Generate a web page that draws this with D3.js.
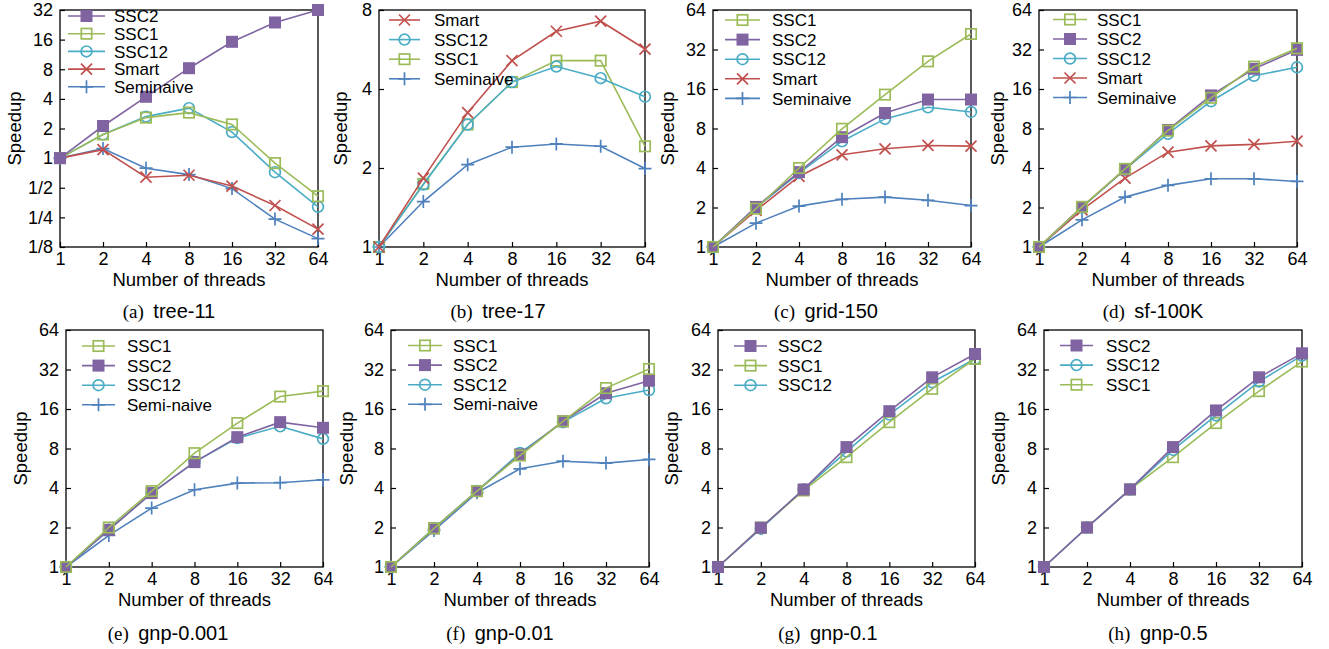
<!DOCTYPE html>
<html><head><meta charset="utf-8">
<script src="https://cdn.jsdelivr.net/npm/d3@7"></script>
<style>body{margin:0;background:#fff}svg{display:block}</style>
</head><body>
<svg id="c" width="1329" height="649"></svg>
<script>
const threads = [1, 2, 4, 8, 16, 32, 64];
const xTickLabels = ["1", "2", "4", "8", "16", "32", "64"];
const yTicksA = [0.125, 0.25, 0.5, 1, 2, 4, 8, 16, 32];
const yTickLabelsA = ["1/8", "1/4", "1/2", "1", "2", "4", "8", "16", "32"];
const yTicksB = [1, 2, 4, 8];
const yTicks64 = [1, 2, 4, 8, 16, 32, 64];

// (a) tree-11
const tree11_SSC2 = [1, 2.12, 4.2, 8.2, 15.2, 23.9, 32];
const tree11_SSC1 = [1, 1.74, 2.58, 2.9, 2.2, 0.89, 0.41];
const tree11_SSC12 = [1, 1.74, 2.64, 3.22, 1.84, 0.72, 0.32];
const tree11_Smart = [1, 1.22, 0.64, 0.67, 0.52, 0.33, 0.19];
const tree11_Seminaive = [1, 1.25, 0.79, 0.68, 0.49, 0.24, 0.152];
// (b) tree-17
const tree17_Smart = [1, 1.83, 3.25, 5.13, 6.64, 7.25, 5.68];
const tree17_SSC12 = [1, 1.73, 2.93, 4.25, 4.87, 4.40, 3.74];
const tree17_SSC1 = [1, 1.74, 2.93, 4.25, 5.13, 5.13, 2.42];
const tree17_Seminaive = [1, 1.49, 2.06, 2.40, 2.47, 2.42, 1.99];
// (c) grid-150
const grid150_SSC1 = [1, 1.96, 4.0, 7.96, 14.5, 26, 42];
const grid150_SSC2 = [1, 2.02, 3.72, 6.87, 10.5, 13.3, 13.3];
const grid150_SSC12 = [1, 1.99, 3.66, 6.4, 9.47, 11.6, 10.7];
const grid150_Smart = [1, 1.9, 3.45, 5.04, 5.6, 5.94, 5.87];
const grid150_Seminaive = [1, 1.52, 2.05, 2.31, 2.40, 2.27, 2.07];
// (d) sf-100K
const sf100k_SSC1 = [1, 2.02, 3.94, 7.7, 13.7, 23.7, 32.7];
const sf100k_SSC2 = [1, 2.02, 3.9, 7.8, 14.3, 22.8, 31.8];
const sf100k_SSC12 = [1, 2.0, 3.9, 7.3, 12.9, 20.2, 23.4];
const sf100k_Smart = [1, 1.92, 3.35, 5.28, 5.9, 6.05, 6.4];
const sf100k_Seminaive = [1, 1.61, 2.40, 2.95, 3.31, 3.31, 3.16];
// (e) gnp-0.001
const gnp0001_SSC1 = [1, 2.0, 3.79, 7.37, 12.5, 19.9, 21.9];
const gnp0001_SSC2 = [1, 1.92, 3.66, 6.3, 9.76, 12.7, 11.5];
const gnp0001_SSC12 = [1, 1.92, 3.66, 6.3, 9.6, 11.8, 9.47];
const gnp0001_Seminaive = [1, 1.74, 2.81, 3.88, 4.36, 4.39, 4.62];
// (f) gnp-0.01
const gnp001_SSC1 = [1, 1.97, 3.79, 7.07, 12.9, 23.1, 32.3];
const gnp001_SSC2 = [1, 1.97, 3.79, 7.2, 12.9, 21.1, 26.3];
const gnp001_SSC12 = [1, 1.97, 3.79, 7.4, 12.7, 19.3, 22.3];
const gnp001_Seminaive = [1, 1.9, 3.68, 5.6, 6.4, 6.19, 6.6];
// (g) gnp-0.1
const gnp01_SSC2 = [1, 1.99, 3.9, 8.2, 15.4, 27.9, 42];
const gnp01_SSC1 = [1, 2.0, 3.83, 6.87, 12.7, 22.8, 38.5];
const gnp01_SSC12 = [1, 1.96, 3.9, 7.58, 14.5, 25.6, 38.5];
// (h) gnp-0.5
const gnp05_SSC2 = [1, 2.0, 3.9, 8.2, 15.6, 27.9, 42.5];
const gnp05_SSC12 = [1, 2.0, 3.9, 7.8, 14.3, 25.9, 40.8];
const gnp05_SSC1 = [1, 2.0, 3.9, 6.87, 12.5, 21.9, 36.8];

const styles = {
  SSC2: {color: "#8064a2", marker: "fsquare"},
  SSC1: {color: "#9bbb59", marker: "osquare"},
  SSC12: {color: "#4bacc6", marker: "circle"},
  Smart: {color: "#c0504d", marker: "x"},
  Seminaive: {color: "#4f81bd", marker: "plus"}
};

const panels = [
  {cap: "(a)", name: "tree-11", box: [60, 318, 10, 247], yl: 15, yDom: [0.125, 32], yt: yTicksA, ytl: yTickLabelsA,
   leg: {x1: 68, x2: 105, tx: 114, y0: 16, dy: 17.7}, capX: 169, capY: 318,
   series: [["SSC2", "SSC2", tree11_SSC2], ["SSC1", "SSC1", tree11_SSC1], ["SSC12", "SSC12", tree11_SSC12], ["Smart", "Smart", tree11_Smart], ["Seminaive", "Seminaive", tree11_Seminaive]]},
  {cap: "(b)", name: "tree-17", box: [379, 645, 10, 247], yl: 341, yDom: [1, 8], yt: yTicksB, ytl: yTicksB.map(String),
   leg: {x1: 389, x2: 420, tx: 434, y0: 20, dy: 19.6}, capX: 498, capY: 318,
   series: [["Smart", "Smart", tree17_Smart], ["SSC12", "SSC12", tree17_SSC12], ["SSC1", "SSC1", tree17_SSC1], ["Seminaive", "Seminaive", tree17_Seminaive]]},
  {cap: "(c)", name: "grid-150", box: [713, 971, 10, 247], yl: 668, yDom: [1, 64], yt: yTicks64, ytl: yTicks64.map(String),
   leg: {x1: 725, x2: 760, tx: 772, y0: 20, dy: 19.6}, capX: 826, capY: 318,
   series: [["SSC1", "SSC1", grid150_SSC1], ["SSC2", "SSC2", grid150_SSC2], ["SSC12", "SSC12", grid150_SSC12], ["Smart", "Smart", grid150_Smart], ["Seminaive", "Seminaive", grid150_Seminaive]]},
  {cap: "(d)", name: "sf-100K", box: [1039, 1297, 10, 247], yl: 998, yDom: [1, 64], yt: yTicks64, ytl: yTicks64.map(String),
   leg: {x1: 1053, x2: 1087, tx: 1097, y0: 19.5, dy: 19.5}, capX: 1153, capY: 318,
   series: [["SSC1", "SSC1", sf100k_SSC1], ["SSC2", "SSC2", sf100k_SSC2], ["SSC12", "SSC12", sf100k_SSC12], ["Smart", "Smart", sf100k_Smart], ["Seminaive", "Seminaive", sf100k_Seminaive]]},
  {cap: "(e)", name: "gnp-0.001", box: [66, 323, 330, 567], yl: 21, yDom: [1, 64], yt: yTicks64, ytl: yTicks64.map(String),
   leg: {x1: 82, x2: 115, tx: 127, y0: 346, dy: 19.6}, capX: 168, capY: 640,
   series: [["SSC1", "SSC1", gnp0001_SSC1], ["SSC2", "SSC2", gnp0001_SSC2], ["SSC12", "SSC12", gnp0001_SSC12], ["Seminaive", "Semi-naive", gnp0001_Seminaive]]},
  {cap: "(f)", name: "gnp-0.01", box: [391, 649, 330, 567], yl: 347, yDom: [1, 64], yt: yTicks64, ytl: yTicks64.map(String),
   leg: {x1: 408, x2: 442, tx: 453, y0: 345.5, dy: 19.6}, capX: 500, capY: 640,
   series: [["SSC1", "SSC1", gnp001_SSC1], ["SSC2", "SSC2", gnp001_SSC2], ["SSC12", "SSC12", gnp001_SSC12], ["Seminaive", "Semi-naive", gnp001_Seminaive]]},
  {cap: "(g)", name: "gnp-0.1", box: [718, 975, 330, 567], yl: 672, yDom: [1, 64], yt: yTicks64, ytl: yTicks64.map(String),
   leg: {x1: 734, x2: 767, tx: 778, y0: 346, dy: 19.6}, capX: 828, capY: 640,
   series: [["SSC2", "SSC2", gnp01_SSC2], ["SSC1", "SSC1", gnp01_SSC1], ["SSC12", "SSC12", gnp01_SSC12]]},
  {cap: "(h)", name: "gnp-0.5", box: [1044, 1302, 330, 567], yl: 999, yDom: [1, 64], yt: yTicks64, ytl: yTicks64.map(String),
   leg: {x1: 1060, x2: 1093, tx: 1106, y0: 345.5, dy: 19.6}, capX: 1158, capY: 640,
   series: [["SSC2", "SSC2", gnp05_SSC2], ["SSC12", "SSC12", gnp05_SSC12], ["SSC1", "SSC1", gnp05_SSC1]]}
];

const svg = d3.select("#c");
const SANS = "'Liberation Sans', Arial, sans-serif";
const SERIF = "'Liberation Serif', 'Times New Roman', serif";

function drawMarker(g, type, color, x, y) {
  const s = 6;
  if (type === "fsquare") {
    g.append("rect").attr("x", x - s).attr("y", y - s).attr("width", 2 * s).attr("height", 2 * s).attr("fill", color);
  } else if (type === "osquare") {
    g.append("rect").attr("x", x - s + 0.8).attr("y", y - s + 0.8).attr("width", 2 * s - 1.6).attr("height", 2 * s - 1.6)
      .attr("fill", "none").attr("stroke", color).attr("stroke-width", 1.7);
  } else if (type === "circle") {
    g.append("circle").attr("cx", x).attr("cy", y).attr("r", s - 0.6).attr("fill", "none").attr("stroke", color).attr("stroke-width", 1.7);
  } else if (type === "x") {
    const q = 5.5;
    g.append("path").attr("d", `M${x - q},${y - q}L${x + q},${y + q}M${x - q},${y + q}L${x + q},${y - q}`)
      .attr("stroke", color).attr("stroke-width", 1.7).attr("fill", "none");
  } else if (type === "plus") {
    const p = 6.5;
    g.append("path").attr("d", `M${x - p},${y}L${x + p},${y}M${x},${y - p}L${x},${y + p}`)
      .attr("stroke", color).attr("stroke-width", 1.7).attr("fill", "none");
  }
}

panels.forEach(p => {
  const [L, R, T, B] = p.box;
  const x = d3.scaleLog().base(2).domain([1, 64]).range([L, R]);
  const y = d3.scaleLog().base(2).domain(p.yDom).range([B, T]);
  const g = svg.append("g");

  g.append("rect").attr("x", L).attr("y", T).attr("width", R - L).attr("height", B - T)
    .attr("fill", "none").attr("stroke", "#000").attr("stroke-width", 1.3);

  const xAxis = d3.axisBottom(x).tickValues(threads).tickFormat((d, i) => xTickLabels[i]).tickSizeInner(-5).tickSizeOuter(0).tickPadding(5);
  const xa = g.append("g").attr("transform", `translate(0,${B})`).call(xAxis);
  xa.select(".domain").remove();
  xa.selectAll("line").attr("stroke", "#000").attr("stroke-width", 1.2);
  xa.selectAll("text").attr("font-family", SANS).attr("font-size", 18).attr("fill", "#000");

  const yAxis = d3.axisLeft(y).tickValues(p.yt).tickFormat((d, i) => p.ytl[i]).tickSizeInner(-5).tickSizeOuter(0).tickPadding(7);
  const ya = g.append("g").attr("transform", `translate(${L},0)`).call(yAxis);
  ya.select(".domain").remove();
  ya.selectAll("line").attr("stroke", "#000").attr("stroke-width", 1.2);
  ya.selectAll("text").attr("font-family", SANS).attr("font-size", 18).attr("fill", "#000");

  g.append("text").attr("x", (L + R) / 2).attr("y", B + 39).attr("text-anchor", "middle")
    .attr("font-family", SANS).attr("font-size", 18.5).text("Number of threads");
  g.append("text").attr("transform", `translate(${p.yl + 6},${(T + B) / 2}) rotate(-90)`).attr("text-anchor", "middle")
    .attr("font-family", SANS).attr("font-size", 18.5).text("Speedup");

  const cap = g.append("text").attr("x", p.capX).attr("y", p.capY).attr("text-anchor", "middle");
  cap.append("tspan").attr("font-family", SERIF).attr("font-size", 19).text(p.cap + "\u00a0\u00a0");
  cap.append("tspan").attr("font-family", SANS).attr("font-size", 20).text(p.name);

  const line = d3.line().x((d, i) => x(threads[i])).y(d => y(d));
  p.series.slice().reverse().forEach(([key, label, vals]) => {
    const st = styles[key];
    g.append("path").attr("d", line(vals)).attr("fill", "none").attr("stroke", st.color).attr("stroke-width", 1.6);
    vals.forEach((v, i) => drawMarker(g, st.marker, st.color, x(threads[i]), y(v)));
  });

  p.series.forEach(([key, label], i) => {
    const st = styles[key];
    const ly = p.leg.y0 + i * p.leg.dy;
    g.append("line").attr("x1", p.leg.x1).attr("x2", p.leg.x2).attr("y1", ly).attr("y2", ly)
      .attr("stroke", st.color).attr("stroke-width", 1.6);
    drawMarker(g, st.marker, st.color, (p.leg.x1 + p.leg.x2) / 2, ly);
    g.append("text").attr("x", p.leg.tx).attr("y", ly).attr("dy", "0.36em")
      .attr("font-family", SANS).attr("font-size", 17).text(label);
  });
});
</script>
</body></html>
